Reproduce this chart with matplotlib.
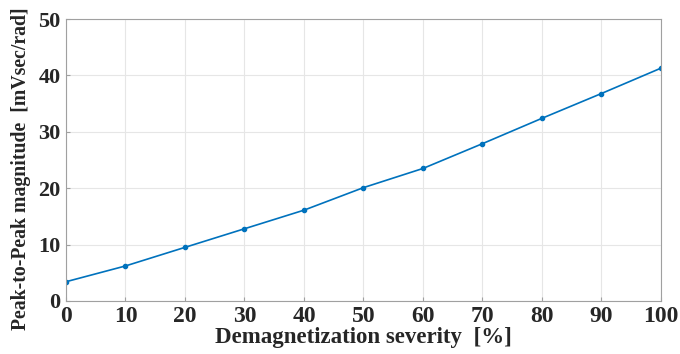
import matplotlib
matplotlib.use("Agg")
import matplotlib.pyplot as plt

severity = [0, 10, 20, 30, 40, 50, 60, 70, 80, 90, 100]
magnitude = [3.4, 6.2, 9.5, 12.8, 16.1, 20.1, 23.5, 27.9, 32.4, 36.8, 41.3]
xticks = [0, 10, 20, 30, 40, 50, 60, 70, 80, 90, 100]
yticks = [0, 10, 20, 30, 40, 50]

plt.rcParams['font.family'] = ['Liberation Serif', 'DejaVu Serif']
plt.rcParams['font.weight'] = 'bold'

fig = plt.figure(figsize=(6.8, 3.54), dpi=100)
ax = fig.add_axes([0.097, 0.150, 0.875, 0.796])
ax.plot(severity, magnitude, color='#0072BD', linewidth=1.2, marker='o', markersize=3)
ax.set_xlim(0, 100)
ax.set_ylim(0, 50)
ax.set_xticks(xticks)
ax.set_yticks(yticks)
ax.grid(True, color='#e6e6e6', linewidth=0.8)
ax.set_axisbelow(True)
for s in ax.spines.values():
    s.set_color('#a0a0a0')
    s.set_linewidth(0.8)
ax.tick_params(direction='in', length=3, color='#a0a0a0', labelcolor='#262626')
ax.tick_params(axis='x', labelsize=17, pad=4)
ax.tick_params(axis='y', labelsize=16, pad=4)
for lab in ax.get_xticklabels() + ax.get_yticklabels():
    lab.set_fontweight('bold')
ax.set_xlabel('Demagnetization severity  [%]', fontsize=16.5, fontweight='bold', color='#262626', labelpad=0)
ax.set_ylabel('Peak-to-Peak magnitude  [mVsec/rad]', fontsize=14.2, fontweight='bold', color='#262626', labelpad=2)
ax.yaxis.set_label_coords(-0.058, 0.47)
fig.savefig('out.png', dpi=100)
